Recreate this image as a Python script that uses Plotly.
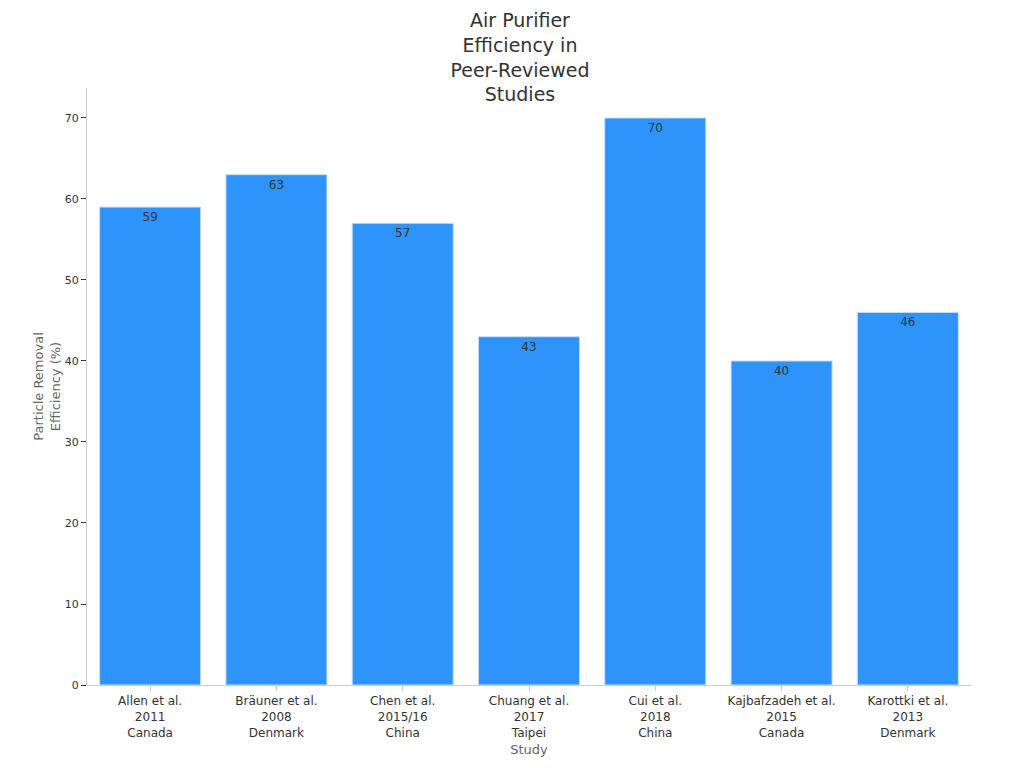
import plotly.graph_objects as go

studies = ["Allen et al.<br>2011<br>Canada", "Bräuner et al.<br>2008<br>Denmark", "Chen et al.<br>2015/16<br>China",
           "Chuang et al.<br>2017<br>Taipei", "Cui et al.<br>2018<br>China", "Kajbafzadeh et al.<br>2015<br>Canada",
           "Karottki et al.<br>2013<br>Denmark"]
efficiency = [59, 63, 57, 43, 70, 40, 46]

fig = go.Figure(go.Bar(
    x=studies, y=efficiency, text=efficiency, textposition="inside", insidetextanchor="end",
    textfont=dict(color="#333333", size=12),
    marker=dict(color="#2E93FA", line=dict(color="#c8ddf5", width=1)),
    width=0.8,
))
fig.update_layout(
    width=1024, height=768, template="none",
    font=dict(family="DejaVu Sans", color="#333333"),
    title=dict(text="Air Purifier<br>Efficiency in<br>Peer-Reviewed<br>Studies", x=0.5, xanchor="center",
               y=0.975, yanchor="top", font=dict(size=19, color="#333333")),
    margin=dict(l=79, r=61, t=80, b=91),
    plot_bgcolor="white", paper_bgcolor="white", showlegend=False,
    xaxis=dict(title=dict(text="Study", font=dict(size=13, color="#666666")), showline=True, linecolor="#cccccc",
               showgrid=False, tickfont=dict(size=12), ticks="outside", ticklen=5, tickcolor="#cccccc"),
    yaxis=dict(title=dict(text="Particle Removal<br>Efficiency (%)", font=dict(size=13, color="#666666")),
               range=[0, 73.7], dtick=10, showline=True, linecolor="#cccccc", showgrid=False,
               ticks="outside", ticklen=5, tickcolor="#333333", tickfont=dict(size=11), zeroline=False),
)
fig.write_html("out.html")
